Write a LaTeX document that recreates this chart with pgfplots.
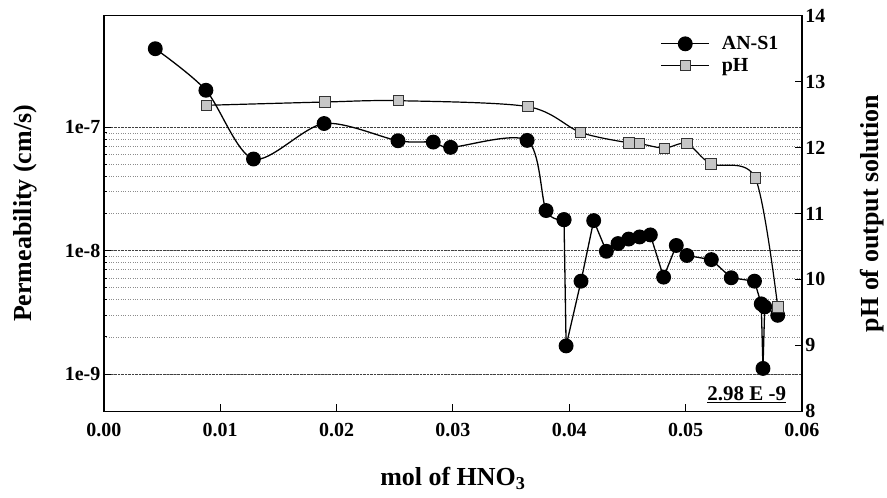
\documentclass[border=0pt]{standalone}
\usepackage{pgfplots}
\pgfplotsset{compat=1.18}
\usepackage{fontspec}
\setmainfont{Liberation Serif}

\newcommand{\tickfont}{\fontsize{20}{24}\selectfont\bfseries}
\newcommand{\labfont}{\fontsize{26}{30}\selectfont\bfseries}

\pgfplotsset{
  base/.style={
    width=699pt, height=396pt, scale only axis,
    xmin=0, xmax=0.06, scaled x ticks=false,
    axis line style={line width=1.3pt},
    tick style={line width=0.9pt, black},
    major tick length=7pt, minor tick length=3.5pt,
    ticklabel style={font=\tickfont},
  },
  anss/.style={black, line width=1.3pt, mark=*, mark size=6.8pt,
    mark options={fill=black, solid}},
  phs/.style={black, line width=1.2pt, mark=square*, mark size=5.2pt,
    mark options={fill=gray!45, draw=black!80, line width=0.8pt, solid}},
}

\begin{document}
\begin{tikzpicture}
  % left axis: permeability on a log scale
  \begin{axis}[base,
      ymode=log, ymin=5e-10, ymax=8e-7,
      xtick={0,0.01,0.02,0.03,0.04,0.05,0.06},
      xticklabels={0.00,0.01,0.02,0.03,0.04,0.05,0.06},
      xtick pos=bottom, ytick pos=left,
      xticklabel style={yshift=-9pt},
      ytick={1e-9,1e-8,1e-7},
      yticklabels={1e-9,1e-8,1e-7},
      ymajorgrids, yminorgrids,
      major grid style={black!75, densely dotted, line width=0.7pt},
      minor grid style={black!45, dotted, line width=0.6pt},
      xlabel={mol of HNO$_{\mathbf{3}}$},
      xlabel style={font=\labfont, at={(axis description cs:0.5,-0.17)}, anchor=center},
      ylabel={Permeability (cm/s)},
      ylabel style={font=\labfont, at={(axis description cs:-0.113,0.5)}, anchor=center, rotate=0},
      clip=false,
    ]
    % smooth upper part
    \addplot[anss, smooth] coordinates {
      (0.00442,4.32e-7) (0.00877,1.99e-7) (0.01286,5.52e-8) (0.01893,1.07e-7)
      (0.02528,7.76e-8) (0.02831,7.57e-8) (0.02980,6.86e-8) (0.03638,7.81e-8)
      (0.03801,2.11e-8) (0.03955,1.78e-8)
    };
    % straight segments afterwards
    \addplot[anss] coordinates {
      (0.03955,1.78e-8) (0.03973,1.69e-9) (0.04101,5.65e-9) (0.04210,1.75e-8)
      (0.04319,9.87e-9) (0.04419,1.14e-8) (0.04511,1.24e-8) (0.04605,1.29e-8)
      (0.04697,1.34e-8) (0.04811,6.09e-9) (0.04920,1.10e-8) (0.05011,9.12e-9)
      (0.05221,8.45e-9) (0.05392,6.02e-9) (0.05592,5.65e-9) (0.05650,3.70e-9)
      (0.05665,1.11e-9) (0.05680,3.50e-9) (0.05792,2.99e-9)
    };
    \node[font=\fontsize{21}{24}\selectfont\bfseries, anchor=base]
      at (rel axis cs:0.921,0.027) {\underline{2.98 E -9}};
  \end{axis}

  % right axis: pH
  \begin{axis}[base,
      ymin=8, ymax=14,
      axis x line=none, axis y line*=right,
      ytick={8,9,10,11,12,13,14},
      yticklabels={8,9,10,11,12,13,14},
      ylabel={pH of output solution},
      ylabel style={font=\labfont, at={(axis description cs:1.100,0.5)}, anchor=center, rotate=0},
      legend style={at={(0.793,0.958)}, anchor=north west, draw=none, fill=none,
        font=\tickfont, row sep=3pt, cells={anchor=west}},
      legend image code/.code={
        \draw[mark repeat=2, mark phase=2, #1]
          plot coordinates {(0pt,0pt) (24pt,0pt) (48pt,0pt)};
        \path (58pt,0pt);},
    ]
    \addlegendimage{anss}
    \addlegendentry{AN-S1}
    \addplot[phs, smooth] coordinates {
      (0.0088,12.64) (0.01899,12.69) (0.0253,12.71) (0.03644,12.62)
      (0.04096,12.23) (0.04511,12.07) (0.04605,12.06) (0.04817,11.99)
      (0.05011,12.06) (0.05217,11.75) (0.05598,11.54) (0.05792,9.58)
    };
    \addlegendentry{pH}
  \end{axis}
  \path ([xshift=-104pt,yshift=-86pt]current axis.south west)
    rectangle ([xshift=84pt,yshift=15.7pt]current axis.north east);
\end{tikzpicture}
\end{document}
